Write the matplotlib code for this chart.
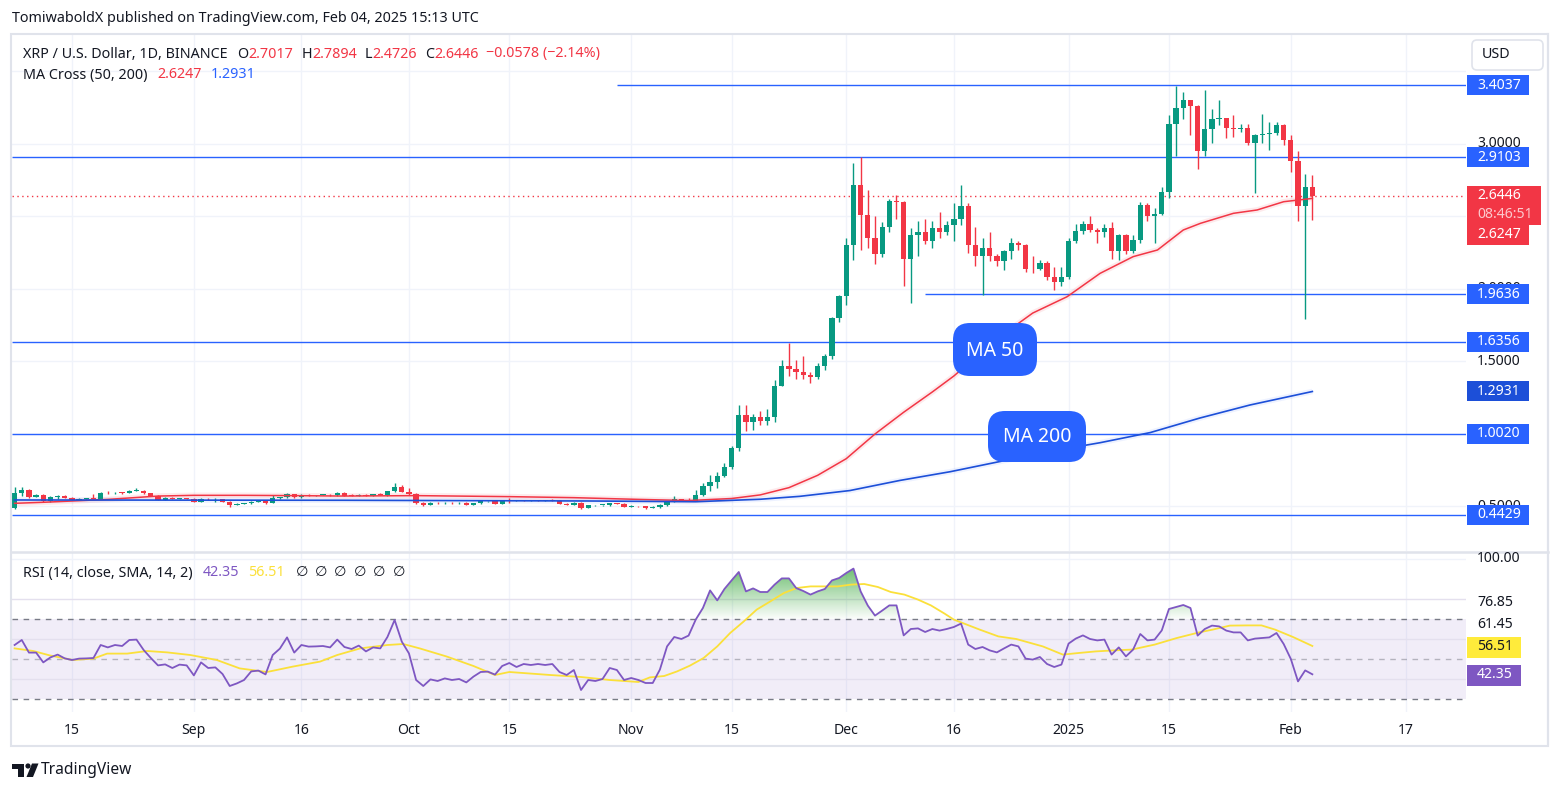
import matplotlib
matplotlib.use("Agg")
import matplotlib.pyplot as plt
from matplotlib.patches import Rectangle, FancyBboxPatch, Polygon, Circle
from matplotlib.colors import LinearSegmentedColormap
from matplotlib.path import Path
import numpy as np
import pandas as pd

W, H = 1561, 792
plt.rcParams['font.family'] = ['Noto Sans', 'DejaVu Sans']

GREEN = '#089981'
RED = '#f23645'
BLUE = '#2962ff'
DARKBLUE = '#1c4fd8'
TEXT = '#131722'
GRID = '#f0f3fa'
PURPLE = '#7e57c2'
YELLOW = '#fbe03a'

# ---------------- data ----------------
first_day = pd.Timestamp('2024-08-07')
first_open = 0.492

closes = [
    0.591, 0.614, 0.568, 0.580, 0.540, 0.563, 0.575, 0.562, 0.546, 0.555,
    0.558, 0.555, 0.595, 0.591, 0.595, 0.592, 0.609, 0.610, 0.590, 0.575,
    0.548, 0.560, 0.552, 0.556, 0.553, 0.533, 0.555, 0.550, 0.552, 0.531,
    0.513, 0.518, 0.522, 0.533, 0.535, 0.522, 0.558, 0.563, 0.586, 0.563,
    0.582, 0.577, 0.579, 0.582, 0.577, 0.595, 0.575, 0.573, 0.582, 0.575,
    0.586, 0.582, 0.607, 0.632, 0.603, 0.586, 0.524, 0.510, 0.527, 0.522,
    0.525, 0.522, 0.526, 0.513, 0.522, 0.536, 0.538, 0.520, 0.545, 0.542,
    0.544, 0.540, 0.543, 0.540, 0.542, 0.540, 0.520, 0.510, 0.526, 0.492,
    0.508, 0.509, 0.511, 0.524, 0.519, 0.499, 0.503, 0.500, 0.492, 0.497,
    0.513, 0.538, 0.552, 0.545, 0.541, 0.580, 0.64, 0.67, 0.71, 0.77,
    0.90, 1.13, 1.08, 1.12, 1.09, 1.12, 1.33, 1.47, 1.45, 1.43,
    1.41, 1.39, 1.47, 1.54, 1.80, 1.95, 2.30, 2.72, 2.51, 2.35,
    2.24, 2.43, 2.61, 2.60, 2.21, 2.37, 2.39, 2.33, 2.42, 2.39,
    2.44, 2.48, 2.57, 2.30, 2.23, 2.28, 2.23, 2.19, 2.26, 2.32,
    2.30, 2.14, 2.135, 2.18, 2.08, 2.05, 2.08, 2.33, 2.40, 2.45,
    2.41, 2.39, 2.42, 2.26, 2.37, 2.26, 2.34, 2.58, 2.50, 2.52,
    2.67, 3.14, 3.25, 3.30, 3.26, 2.95, 3.10, 3.17, 3.18, 3.11,
    3.10, 3.11, 3.01, 3.06, 3.07, 3.075, 3.13, 3.03, 2.88, 2.57,
    2.7017, 2.6446,
]
highs = [
    0.632, 0.632, 0.621, 0.586, 0.585, 0.570, 0.580, 0.578, 0.565, 0.558,
    0.561, 0.583, 0.598, 0.605, 0.600, 0.598, 0.614, 0.628, 0.612, 0.593,
    0.580, 0.568, 0.568, 0.560, 0.558, 0.556, 0.558, 0.560, 0.559, 0.552,
    0.540, 0.522, 0.525, 0.536, 0.538, 0.545, 0.579, 0.566, 0.590, 0.588,
    0.585, 0.586, 0.582, 0.585, 0.586, 0.600, 0.598, 0.584, 0.586, 0.585,
    0.589, 0.590, 0.610, 0.660, 0.648, 0.625, 0.592, 0.531, 0.530, 0.530,
    0.528, 0.528, 0.529, 0.528, 0.526, 0.539, 0.540, 0.538, 0.548, 0.560,
    0.545, 0.544, 0.546, 0.545, 0.545, 0.552, 0.543, 0.522, 0.529, 0.528,
    0.510, 0.511, 0.513, 0.527, 0.526, 0.521, 0.507, 0.506, 0.502, 0.500,
    0.516, 0.541, 0.571, 0.553, 0.562, 0.614, 0.66, 0.72, 0.74, 0.80,
    0.92, 1.20, 1.20, 1.14, 1.16, 1.17, 1.37, 1.51, 1.63, 1.51,
    1.54, 1.43, 1.49, 1.55, 1.81, 1.96, 2.35, 2.87, 2.91, 2.68,
    2.50, 2.46, 2.62, 2.65, 2.61, 2.42, 2.47, 2.48, 2.47, 2.53,
    2.47, 2.59, 2.72, 2.59, 2.43, 2.35, 2.39, 2.24, 2.27, 2.35,
    2.33, 2.31, 2.23, 2.20, 2.19, 2.15, 2.15, 2.35, 2.45, 2.47,
    2.50, 2.42, 2.45, 2.46, 2.38, 2.38, 2.37, 2.60, 2.59, 2.56,
    2.70, 3.20, 3.40, 3.36, 3.30, 3.27, 3.37, 3.24, 3.30, 3.18,
    3.20, 3.14, 3.14, 3.07, 3.21, 3.15, 3.15, 3.14, 3.06, 2.95,
    2.79, 2.7894,
]
lows = [
    0.483, 0.573, 0.561, 0.572, 0.533, 0.533, 0.555, 0.558, 0.542, 0.544,
    0.551, 0.551, 0.553, 0.584, 0.588, 0.588, 0.590, 0.605, 0.586, 0.572,
    0.545, 0.548, 0.550, 0.550, 0.550, 0.530, 0.530, 0.547, 0.530, 0.528,
    0.499, 0.510, 0.515, 0.520, 0.530, 0.515, 0.522, 0.554, 0.560, 0.560,
    0.560, 0.574, 0.574, 0.577, 0.574, 0.575, 0.572, 0.570, 0.572, 0.572,
    0.573, 0.578, 0.575, 0.602, 0.600, 0.579, 0.517, 0.505, 0.508, 0.519,
    0.519, 0.518, 0.520, 0.510, 0.512, 0.518, 0.530, 0.517, 0.518, 0.524,
    0.536, 0.536, 0.538, 0.536, 0.537, 0.536, 0.516, 0.507, 0.508, 0.485,
    0.490, 0.503, 0.504, 0.505, 0.515, 0.495, 0.497, 0.496, 0.485, 0.490,
    0.493, 0.506, 0.531, 0.540, 0.538, 0.540, 0.57, 0.61, 0.63, 0.70,
    0.76, 0.88, 1.02, 1.03, 1.06, 1.06, 1.08, 1.33, 1.40, 1.38,
    1.38, 1.35, 1.38, 1.44, 1.52, 1.77, 1.89, 2.20, 2.27, 2.285,
    2.17, 2.22, 2.39, 2.48, 2.02, 1.90, 2.23, 2.31, 2.28, 2.35,
    2.37, 2.33, 2.44, 2.25, 2.16, 1.96, 2.19, 2.16, 2.13, 2.21,
    2.27, 2.12, 2.11, 2.13, 2.06, 1.99, 2.02, 2.07, 2.32, 2.38,
    2.39, 2.32, 2.36, 2.21, 2.20, 2.24, 2.25, 2.32, 2.47, 2.32,
    2.51, 2.63, 2.92, 3.17, 3.06, 2.83, 2.92, 3.01, 3.13, 3.04,
    3.05, 3.08, 2.99, 2.66, 3.01, 2.96, 3.06, 2.99, 2.81, 2.47,
    1.79, 2.4726,
]

ma50_days = [0, 4, 9, 13, 20, 25, 32, 39, 46, 56, 69, 78, 87, 94, 100, 104,
             108, 112, 116, 120, 124, 128, 131, 135, 137.4, 142, 146.8, 151.4,
             156, 159.4, 163, 165.4, 170, 173.3, 177, 181]
ma50_vals = [0.522, 0.529, 0.540, 0.549, 0.572, 0.577, 0.577, 0.575, 0.572,
             0.575, 0.568, 0.561, 0.549, 0.541, 0.555, 0.58, 0.63, 0.715, 0.83,
             1.00, 1.15, 1.29, 1.40, 1.57, 1.67, 1.834, 1.947, 2.108, 2.223,
             2.269, 2.407, 2.453, 2.522, 2.545, 2.602, 2.6247]
ma200_days = [0, 46, 80, 95, 104, 109.5, 116.5, 123.5, 130.5, 137.4, 144.4,
              151.4, 158.4, 165.3, 172.3, 181]
ma200_vals = [0.545, 0.543, 0.538, 0.533, 0.55, 0.57, 0.61, 0.68, 0.74, 0.81,
              0.88, 0.94, 1.01, 1.11, 1.20, 1.2931]

rsi_vals = [
    57, 59.5, 53.2, 53.2, 48.3, 50.8, 52.2, 50.3, 49.5, 50.2,
    50.3, 50.5, 57, 55.8, 57, 56.5, 59.5, 59.7, 54.5, 50.5,
    46.8, 47.3, 45.5, 47.2, 46.8, 41.8, 48.3, 45.5, 45.8, 42.5,
    36.5, 37.8, 39.5, 43.8, 44.2, 42.3, 52, 55.2, 60.8, 53.2,
    57, 56.2, 56.3, 56.5, 55.8, 59.7, 56, 55, 56.7, 53.8,
    55.8, 55.3, 61, 69.5, 58.7, 52.8, 39.5, 36.5, 39.8, 39,
    40.3, 39.5, 40, 38.3, 41.2, 43.5, 43.7, 42.2, 46.5, 48,
    46, 47.5, 47, 47.5, 47, 47.5, 43.5, 42, 44.5, 34.5,
    39.5, 39, 40, 45.5, 44.5, 39.5, 40.5, 39.5, 38, 38,
    44.7, 56.3, 61, 60, 61.7, 69.7, 75.5, 84.3, 79.3, 85,
    89.3, 93.5, 83.8, 85.3, 83.5, 83.5, 87.2, 90.3, 90.3, 85.5,
    84, 82.2, 83.8, 85, 89.3, 90.5, 93, 95.2, 83.8, 76.7,
    71.7, 74.2, 76.8, 76.8, 61.8, 65, 65.3, 63.5, 65, 64.2,
    65, 66, 67.7, 57.2, 55, 56, 54.3, 53.3, 55.3, 57.2,
    56.3, 50.2, 49.7, 51, 47.5, 46, 47.2, 57.7, 60.2, 61.8,
    60, 59.3, 59.7, 52.2, 55.8, 51.3, 54.7, 62.5, 59.3, 59.7,
    64.3, 75, 76, 77, 75.5, 61.7, 65, 66.7, 66.3, 64.2,
    63.3, 63.3, 59.3, 60.2, 60.5, 60.8, 63, 57.5, 50, 38.8,
    44.3, 42.35,
]
rsi_sma_days = [0, 2.6, 4.9, 8.1, 11, 12.9, 15.7, 18.5, 21.3, 24.5, 28.2, 31.4,
                35.2, 38.8, 42.6, 45, 48.2, 52, 54.2, 56.5, 60.3, 64, 67, 69,
                74.7, 79, 83, 87, 88.6, 90.6, 92.4, 94.2, 96.1, 98, 99.8, 101.7,
                103.5, 105.4, 107.3, 109.1, 111, 114.8, 116.7, 118.5, 120.4,
                122.2, 124.1, 126, 127.8, 129.7, 131, 132.8, 134.6, 137.2, 139.7,
                143.4, 146.2, 148.4, 150.8, 153.3, 155.8, 159, 162.1, 165.2,
                167.1, 169.5, 172, 173.9, 175.8, 178.3, 181]
rsi_sma_vals = [55.3, 54, 51.8, 49.5, 50.2, 52.7, 52.7, 54, 53.3, 52, 49.5, 45.3,
                43.5, 46.2, 48.7, 52, 55.3, 57, 57.5, 55.3, 51.2, 46.5, 42, 43.5,
                42, 41, 39.5, 38.5, 40.8, 41.5, 43.8, 46.7, 50.5, 56.3, 63, 68.8,
                74.7, 78.8, 83, 85.5, 86.3, 86.3, 87.2, 87.5, 86, 83.5, 82.2,
                79.7, 76.8, 72.7, 69.7, 67.2, 64.7, 61.3, 60, 56.3, 52.2, 53,
                53.8, 54.3, 54.7, 57.2, 60.5, 63.3, 64.7, 66.7, 66.8, 66.8, 64.7,
                61, 56.51]

levels = [3.4037, 2.9103, 1.9636, 1.6356, 1.0020, 0.4429]
level_from = ['2024-10-30', None, '2024-12-12', None, None, None]
last_close = 2.6446
ma50_last = 2.6247
ma200_last = 1.2931
rsi_last = 42.35
rsi_sma_last = 56.51

price_grid = [0.5, 1.0, 1.5, 2.0, 2.5, 3.0, 3.5]
price_ticks = [3.0, 2.0, 1.5, 0.5]
rsi_grid = [40, 60, 80, 100]
rsi_axis_labels = ['100.00', '76.85', '61.45']
date_ticks = ['2024-08-15', '2024-09-01', '2024-09-16', '2024-10-01',
              '2024-10-15', '2024-11-01', '2024-11-15', '2024-12-01',
              '2024-12-16', '2025-01-01', '2025-01-15', '2025-02-01',
              '2025-02-17']
date_labels = ['15', 'Sep', '16', 'Oct', '15', 'Nov', '15', 'Dec', '16',
               '2025', '15', 'Feb', '17']

# ---------------- figure ----------------
fig = plt.figure(figsize=(W / 100, H / 100), dpi=100, facecolor='white')


def frac(x0, y0, x1, y1):
    return [x0 / W, 1 - y1 / H, (x1 - x0) / W, (y1 - y0) / H]


ax = fig.add_axes(frac(12, 35, 1466, 551))
ax2 = fig.add_axes(frac(12, 552, 1466, 712))
ov = fig.add_axes([0, 0, 1, 1], zorder=10)
ov.set_xlim(0, W)
ov.set_ylim(H, 0)
ov.axis('off')

x0, x1 = -0.363, 202.43
for a in (ax, ax2):
    a.set_xlim(x0, x1)
    a.axis('off')
ax.set_ylim(0.1931, 3.7517)
ax2.set_ylim(23.5, 103.5)

tick_days = [(pd.Timestamp(t) - first_day).days for t in date_ticks]
for d in tick_days:
    ax.axvline(d, color=GRID, lw=1, zorder=0)
    ax2.axvline(d, color=GRID, lw=1, zorder=0)
for p in price_grid:
    ax.axhline(p, color=GRID, lw=1, zorder=0)

# candles
closes = np.array(closes)
opens = np.r_[first_open, closes[:-1]]
highs = np.maximum(np.array(highs), np.maximum(opens, closes))
lows = np.minimum(np.array(lows), np.minimum(opens, closes))
days = np.arange(len(closes))
cols = np.where(closes >= opens, GREEN, RED)
ax.vlines(days, lows, highs, colors=cols, lw=1, zorder=3)
ax.bar(days, np.maximum(np.abs(closes - opens), 0.005),
       bottom=np.minimum(opens, closes), width=0.74, color=cols, lw=0, zorder=4)

# moving averages
ax.plot(ma50_days, ma50_vals, color=RED, lw=4, alpha=0.1, zorder=2,
        solid_capstyle='butt')
ax.plot(ma50_days, ma50_vals, color=RED, lw=1.1, zorder=5)
ax.plot(ma200_days, ma200_vals, color=BLUE, lw=4, alpha=0.08, zorder=2,
        solid_capstyle='butt')
ax.plot(ma200_days, ma200_vals, color=DARKBLUE, lw=1.2, zorder=5)

# horizontal levels
for lv, frm in zip(levels, level_from):
    start = x0 if frm is None else (pd.Timestamp(frm) - first_day).days
    ax.hlines(lv, start, x1, color=BLUE, lw=1, zorder=1)
ax.axhline(last_close, color=RED, lw=1, ls=(0, (1, 2.5)), zorder=1)

# RSI pane
ax2.axhspan(30, 70, color=PURPLE, alpha=0.1, lw=0, zorder=0)
for g in rsi_grid:
    ax2.axhline(g, color=GRID if g == 100 else '#e4e0ee', lw=1, zorder=0)
ax2.axhline(70, color='#787b86', lw=1, ls=(0, (4, 4)), zorder=1)
ax2.axhline(50, color='#787b86', lw=1, ls=(0, (4, 4)), alpha=0.5, zorder=1)
ax2.axhline(30, color='#787b86', lw=1, ls=(0, (4, 4)), zorder=1)

rsi = np.array(rsi_vals)
rd = np.arange(len(rsi))
fb = ax2.fill_between(rd, rsi, 70, where=rsi > 70, interpolate=True,
                      facecolor='none', edgecolor='none')
paths = fb.get_paths()
if paths:
    clip = Path.make_compound_path(*paths)
    gcmap = LinearSegmentedColormap.from_list(
        'g', [(0.30, 0.69, 0.31, 0.02), (0.30, 0.69, 0.31, 0.85)])
    img = ax2.imshow(np.linspace(0, 1, 256).reshape(-1, 1), extent=[x0, x1, 70, 97],
                     origin='lower', aspect='auto', cmap=gcmap, zorder=2)
    img.set_clip_path(clip, transform=ax2.transData)
    ax2.set_xlim(x0, x1)
    ax2.set_ylim(23.5, 103.5)
ax2.plot(rsi_sma_days, rsi_sma_vals, color=YELLOW, lw=1.3, zorder=3)
ax2.plot(rd, rsi, color=PURPLE, lw=1.3, zorder=4)

# ---------------- overlay (pixel coordinates) ----------------
renderer = fig.canvas.get_renderer()
FS = 10.3


def py(a, v):
    return H - a.transData.transform((0, v))[1]


def px(a, d):
    return a.transData.transform((d, 0))[0]


def rich(x, y, parts, size):
    for s, c in parts:
        if s is None:
            x += c
            continue
        t = ov.text(x, y, s, color=c, fontsize=size, ha='left', va='center')
        x += t.get_window_extent(renderer).width
    return x


# frame
ov.add_patch(Rectangle((11, 33.5), 1537, 712, fill=False, ec='#e0e3eb', lw=1.5))
ov.plot([11, 1548], [551.5, 551.5], color='#e0e3eb', lw=1.8)

ov.text(12, 19, 'TomiwaboldX published on TradingView.com, Feb 04, 2025 15:13 UTC',
        fontsize=10.3, color=TEXT, va='center', ha='left')

rich(23, 54, [('XRP / U.S. Dollar, 1D, BINANCE', TEXT), (None, 10),
              ('O', TEXT), ('2.7017', RED), (None, 8),
              ('H', TEXT), ('2.7894', RED), (None, 8),
              ('L', TEXT), ('2.4726', RED), (None, 8),
              ('C', TEXT), ('2.6446', RED), (None, 8),
              ('\u22120.0578 (\u22122.14%)', RED)], FS)
rich(23, 75, [('MA Cross (50, 200)', TEXT), (None, 10),
              ('2.6247', RED), (None, 9), ('1.2931', BLUE)], FS)
xe = rich(23, 573, [('RSI (14, close, SMA, 14, 2)', TEXT), (None, 10),
                    ('42.35', PURPLE), (None, 9), ('56.51', YELLOW)], FS)
for i in range(6):
    ov.text(xe + 17 + i * 19.4, 573, '\u2205', color=TEXT, fontsize=FS,
            ha='center', va='center')

# MA tags
for label, cx, cy, w, h in [('MA 50', 995, 349.5, 84, 53), ('MA 200', 1037, 436.5, 98, 51)]:
    ov.add_patch(FancyBboxPatch((cx - w / 2, cy - h / 2), w, h,
                                boxstyle='round,pad=0,rounding_size=17',
                                fc=BLUE, ec='none', zorder=6))
    ov.text(cx, cy + 1, label, color='white', fontsize=14, ha='center',
            va='center', zorder=7)

# price axis
AX_FS = 10.1
for p in price_ticks:
    ov.text(1477, py(ax, p), '%.4f' % p, fontsize=AX_FS, color=TEXT,
            ha='left', va='center')


def tag(y, txt, fc, tc='white', x0_=1467, w=62, h=20):
    ov.add_patch(Rectangle((x0_, y - h / 2), w, h, fc=fc, ec='none', zorder=8))
    ov.text(x0_ + 10, y, txt, color=tc, fontsize=AX_FS, ha='left', va='center',
            zorder=9)


for lv in levels:
    tag(py(ax, lv), '%.4f' % lv, BLUE)
tag(py(ax, ma200_last), '%.4f' % ma200_last, DARKBLUE)
yc = py(ax, last_close)
ov.add_patch(Rectangle((1467, yc - 10), 74, 39, fc=RED, ec='none', zorder=8))
ov.text(1477, yc, '%.4f' % last_close, color='white', fontsize=AX_FS,
        ha='left', va='center', zorder=9)
ov.text(1477, yc + 18.5, '08:46:51', color='#fcc9cd', fontsize=AX_FS,
        ha='left', va='center', zorder=9)
tag(yc + 39, '%.4f' % ma50_last, RED)

# USD box
ov.add_patch(FancyBboxPatch((1472, 40), 71, 30, boxstyle='round,pad=0,rounding_size=5',
                            fc='white', ec='#e0e3eb', lw=1.2))
ov.text(1496, 55, 'USD', fontsize=FS, color=TEXT, ha='center', va='center')
ov.plot([1548, 1548], [33.5, 745], color='#e0e3eb', lw=1.5)

# RSI axis (TradingView stacks these labels, so they sit at fixed rows)
for lab, yy in zip(rsi_axis_labels, [559, 603, 625]):
    ov.text(1477, yy, lab, fontsize=AX_FS, color=TEXT, ha='left', va='center')
tag(647, '%.2f' % rsi_sma_last, '#ffeb3b', tc=TEXT, w=54, h=21)
tag(675, '%.2f' % rsi_last, PURPLE, w=54, h=21)

# time axis
for d, lab in zip(tick_days, date_labels):
    ov.text(px(ax2, d), 730, lab, fontsize=AX_FS, color=TEXT, ha='center',
            va='center', fontweight='bold' if lab == '2025' else 'normal')

# logo
ov.add_patch(Polygon([(12, 763.5), (24.5, 763.5), (24.5, 777), (18.5, 777),
                      (18.5, 768.5), (12, 768.5)], closed=True, fc=TEXT, ec='none'))
ov.add_patch(Circle((28, 766), 2.6, fc=TEXT, ec='none'))
ov.add_patch(Polygon([(32, 763.5), (38.5, 763.5), (33, 777), (26.5, 777)],
                     closed=True, fc=TEXT, ec='none'))
ov.text(41, 770, 'TradingView', fontsize=11.2, color=TEXT, ha='left', va='center')

fig.savefig('out.png', dpi=100, facecolor='white')
